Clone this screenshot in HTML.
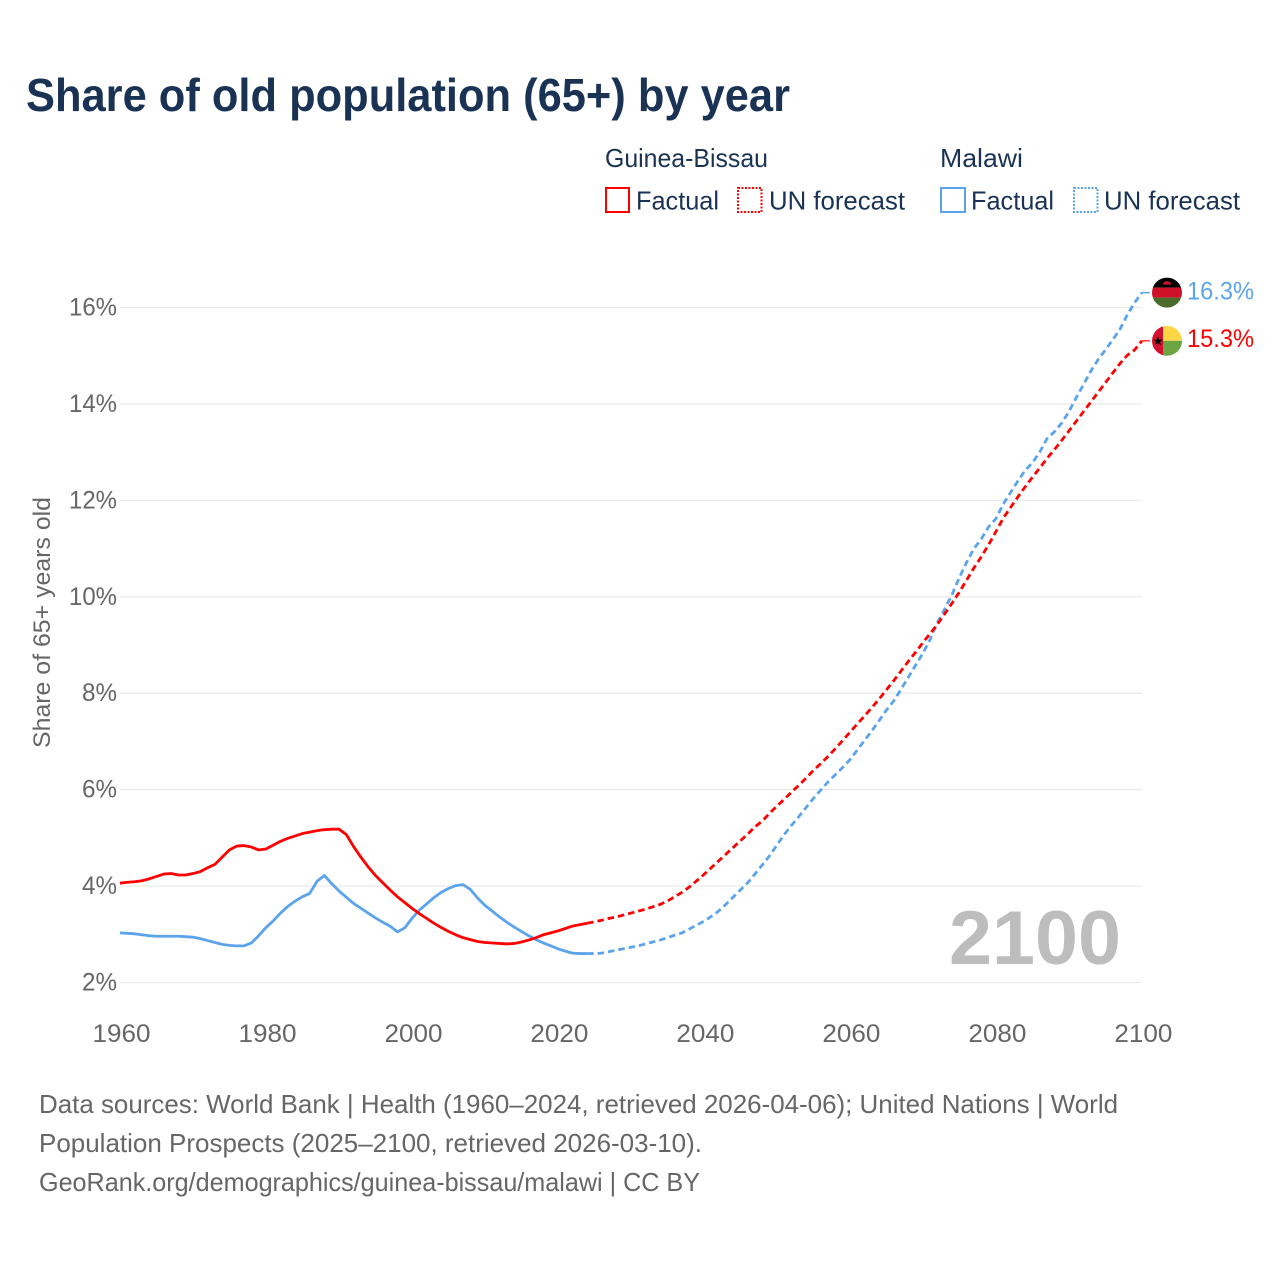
<!DOCTYPE html>
<html lang="en">
<head>
<meta charset="utf-8">
<title>Share of old population (65+) by year</title>
<style>
html,body{margin:0;padding:0;background:#fff;}
svg{display:block;font-family:"Liberation Sans",Arial,sans-serif;}
</style>
</head>
<body>
<svg id="chart" xmlns="http://www.w3.org/2000/svg" width="1280" height="1280" viewBox="0 0 1280 1280">
  <rect width="1280" height="1280" fill="#fff"/>
  <text x="26" y="111" font-size="46" font-weight="700" fill="#1a3355" textLength="764" lengthAdjust="spacingAndGlyphs">Share of old population (65+) by year</text>

  <g font-size="26" fill="#1a3355">
    <text x="605" y="167" textLength="163" lengthAdjust="spacingAndGlyphs">Guinea-Bissau</text>
    <rect x="606" y="188" width="23" height="24" fill="none" stroke="#ff0000" stroke-width="2"/>
    <text x="636" y="209.500" textLength="83" lengthAdjust="spacingAndGlyphs">Factual</text>
    <rect x="738" y="188" width="23.500" height="24" fill="none" stroke="#ff0000" stroke-width="2" stroke-dasharray="2 1.500"/>
    <text x="769" y="209.500" textLength="136" lengthAdjust="spacingAndGlyphs">UN forecast</text>
    <text x="940" y="167" textLength="83" lengthAdjust="spacingAndGlyphs">Malawi</text>
    <rect x="941" y="188" width="24" height="24" fill="none" stroke="#5ba4ec" stroke-width="2"/>
    <text x="971" y="209.500" textLength="83" lengthAdjust="spacingAndGlyphs">Factual</text>
    <rect x="1074" y="188" width="23.500" height="24" fill="none" stroke="#5ba4ec" stroke-width="2" stroke-dasharray="2 1.500"/>
    <text x="1104" y="209.500" textLength="136" lengthAdjust="spacingAndGlyphs">UN forecast</text>
  </g>

  <text transform="translate(50,622.500) rotate(-90)" text-anchor="middle" font-size="24.500" fill="#666" textLength="251" lengthAdjust="spacingAndGlyphs">Share of 65+ years old</text>

  <g id="grid"></g>
  <g id="yticks"></g>
  <g id="xticks"></g>

  <text id="yearLabel" x="1121" y="964" text-anchor="end" font-size="76" font-weight="700" fill="#bdbdbd" textLength="172" lengthAdjust="spacingAndGlyphs">2100</text>

  <g id="series"></g>

  <g id="flagMalawi">
    <clipPath id="clipM"><circle cx="0" cy="0" r="15"/></clipPath>
    <g clip-path="url(#clipM)">
      <rect x="-15" y="-15" width="30" height="10" fill="#000"/>
      <rect x="-15" y="-5" width="30" height="10" fill="#ce1126"/>
      <rect x="-15" y="5" width="30" height="10" fill="#4a6b2c"/>
      <path d="M-4-8a4 3.500 0 0 1 8 0z" fill="#ce1126"/>
    </g>
  </g>
  <g id="flagGuinea">
    <clipPath id="clipG"><circle cx="0" cy="0" r="15"/></clipPath>
    <g clip-path="url(#clipG)">
      <rect x="-15" y="-15" width="11" height="30" fill="#d2102f"/>
      <rect x="-4" y="-15" width="19" height="15" fill="#fcd745"/>
      <rect x="-4" y="0" width="19" height="15" fill="#6da544"/>
      <path d="M-9-4.500l1.200 3.300h3.500l-2.800 2.100 1 3.400-2.900-2-2.900 2 1-3.400-2.800-2.100h3.500z" fill="#000"/>
    </g>
  </g>
  <text id="labelMalawi" x="1187" font-size="25" fill="#5ba4ec" textLength="67" lengthAdjust="spacingAndGlyphs"></text>
  <text id="labelGuinea" x="1187" font-size="25" fill="#ff0000" textLength="67" lengthAdjust="spacingAndGlyphs"></text>

  <g font-size="26" fill="#666">
    <text x="39" y="1113" textLength="1079" lengthAdjust="spacingAndGlyphs">Data sources: World Bank | Health (1960–2024, retrieved 2026-04-06); United Nations | World</text>
    <text x="39" y="1152" textLength="663" lengthAdjust="spacingAndGlyphs">Population Prospects (2025–2100, retrieved 2026-03-10).</text>
    <text x="39" y="1191" textLength="661" lengthAdjust="spacingAndGlyphs">GeoRank.org/demographics/guinea-bissau/malawi | CC BY</text>
  </g>
</svg>
<script>
const yTickValues = [2, 4, 6, 8, 10, 12, 14, 16];
const xTickYears = [1960, 1980, 2000, 2020, 2040, 2060, 2080, 2100];
const factualStartYear = 1960;
const forecastStartYear = 2024;
const guineaFactual = [
  4.06,4.08,4.09,4.11,4.15,4.20,4.25,4.26,4.23,4.23,
  4.26,4.30,4.38,4.45,4.60,4.75,4.83,4.84,4.81,4.75,
  4.77,4.85,4.93,4.99,5.04,5.09,5.12,5.15,5.17,5.18,
  5.18,5.07,4.82,4.60,4.40,4.22,4.07,3.92,3.78,3.66,
  3.54,3.43,3.33,3.23,3.14,3.06,2.99,2.93,2.89,2.85,
  2.83,2.82,2.81,2.80,2.81,2.84,2.88,2.93,2.99,3.03,
  3.07,3.12,3.17,3.20,3.23
];
const malawiFactual = [
  3.03,3.02,3.01,2.99,2.97,2.96,2.96,2.96,2.96,2.95,
  2.94,2.91,2.87,2.83,2.79,2.77,2.76,2.76,2.82,2.97,
  3.14,3.28,3.44,3.58,3.69,3.78,3.85,4.10,4.22,4.05,
  3.90,3.77,3.64,3.54,3.44,3.34,3.25,3.17,3.05,3.13,
  3.33,3.50,3.63,3.76,3.87,3.95,4.01,4.03,3.93,3.75,
  3.60,3.48,3.36,3.25,3.15,3.06,2.97,2.89,2.82,2.76,
  2.70,2.65,2.61,2.60,2.60
];
const guineaForecast = [
  3.23,3.26,3.29,3.33,3.36,3.40,3.44,3.48,3.52,3.57,3.62,3.69,3.78,3.87,3.98,4.11,
  4.24,4.38,4.52,4.66,4.80,4.94,5.08,5.23,5.35,5.51,5.66,5.80,5.95,6.09,6.24,6.40,
  6.54,6.69,6.85,7.02,7.19,7.36,7.53,7.70,7.88,8.07,8.26,8.46,8.66,8.85,9.05,9.24,
  9.43,9.65,9.87,10.10,10.35,10.60,10.83,11.08,11.35,11.63,11.85,12.07,12.28,12.48,
  12.67,12.87,13.05,13.24,13.44,13.64,13.84,14.04,14.24,14.44,14.64,14.84,15.01,15.12,15.31
];
const malawiForecast = [
  2.60,2.60,2.61,2.64,2.67,2.70,2.73,2.76,2.80,2.84,2.88,2.93,2.98,3.03,3.11,3.19,
  3.27,3.37,3.48,3.62,3.77,3.92,4.07,4.25,4.44,4.63,4.85,5.07,5.26,5.44,5.63,5.82,
  5.99,6.16,6.31,6.46,6.62,6.82,7.02,7.22,7.43,7.65,7.84,8.08,8.33,8.58,8.83,9.12,
  9.47,9.75,10.05,10.40,10.72,11.00,11.20,11.45,11.62,11.92,12.16,12.40,12.62,12.78,
  13.00,13.28,13.42,13.60,13.84,14.13,14.40,14.68,14.92,15.12,15.33,15.55,15.85,16.10,16.31
];

const NS = 'http://www.w3.org/2000/svg';
function xScale(year) { return 120 + (year - 1960) * 7.299; }
function yScale(v) { return 982.5 - (v - 2) * 48.21; }
function make(tag, attrs, parent) {
  const el = document.createElementNS(NS, tag);
  for (const k in attrs) el.setAttribute(k, attrs[k]);
  parent.appendChild(el);
  return el;
}
const grid = document.getElementById('grid');
const yticks = document.getElementById('yticks');
const xticks = document.getElementById('xticks');
const series = document.getElementById('series');

yTickValues.forEach(function (v) {
  const line = make('line', {x1: 120, x2: xScale(2100), y1: yScale(v), y2: yScale(v), stroke: '#e9e9e9', 'stroke-width': 1.2}, grid);
  
  
  const t = make('text', {x: 117, y: yScale(v) + 8, 'text-anchor': 'end', 'font-size': 25, fill: '#666', textLength: v >= 10 ? 48 : 35, lengthAdjust: 'spacingAndGlyphs'}, yticks);
  
  
  t.textContent = v + '%';
});

xTickYears.forEach(function (yr) {
  const t = make('text', {x: xScale(yr) + 1.5, y: 1042, 'text-anchor': 'middle', 'font-size': 25, fill: '#666', textLength: 58, lengthAdjust: 'spacingAndGlyphs'}, xticks);
  
  
  t.textContent = yr;
});

function pathFor(values, startYear) {
  return values.map(function (v, i) {
    return (i ? 'L' : 'M') + xScale(startYear + i).toFixed(2) + ' ' + yScale(v).toFixed(2);
  }).join('');
}

const malawiFactualLine = make('path', {d: pathFor(malawiFactual, factualStartYear), fill: 'none', stroke: '#5ba4ec', 'stroke-width': 2.8, 'stroke-linejoin': 'round'}, series);



const guineaFactualLine = make('path', {d: pathFor(guineaFactual, factualStartYear), fill: 'none', stroke: '#ff0000', 'stroke-width': 2.8, 'stroke-linejoin': 'round'}, series);



const malawiForecastLine = make('path', {d: pathFor(malawiForecast, forecastStartYear), fill: 'none', stroke: '#5ba4ec', 'stroke-width': 2.8, 'stroke-dasharray': '6.500 4'}, series);



const guineaForecastLine = make('path', {d: pathFor(guineaForecast, forecastStartYear), fill: 'none', stroke: '#ff0000', 'stroke-width': 2.8, 'stroke-dasharray': '6.500 4'}, series);



const malawiLast = malawiForecast[malawiForecast.length - 1];
const guineaLast = guineaForecast[guineaForecast.length - 1];

const malawiLeader = make('line', {x1: xScale(2100), x2: xScale(2100) + 8, y1: yScale(malawiLast), y2: yScale(malawiLast), stroke: '#5ba4ec', 'stroke-width': 1.5}, series);



const guineaLeader = make('line', {x1: xScale(2100), x2: xScale(2100) + 8, y1: yScale(guineaLast), y2: yScale(guineaLast), stroke: '#ff0000', 'stroke-width': 1.5, opacity: 0.8}, series);



document.getElementById('flagMalawi').setAttribute('transform', 'translate(1167,' + yScale(malawiLast) + ')');
document.getElementById('flagGuinea').setAttribute('transform', 'translate(1167,' + yScale(guineaLast) + ')');
const labelM = document.getElementById('labelMalawi');
labelM.setAttribute('y', yScale(malawiLast) + 7);
labelM.textContent = malawiLast.toFixed(1) + '%';
const labelG = document.getElementById('labelGuinea');
labelG.setAttribute('y', yScale(guineaLast) + 6);
labelG.textContent = guineaLast.toFixed(1) + '%';
</script>
</body>
</html>
